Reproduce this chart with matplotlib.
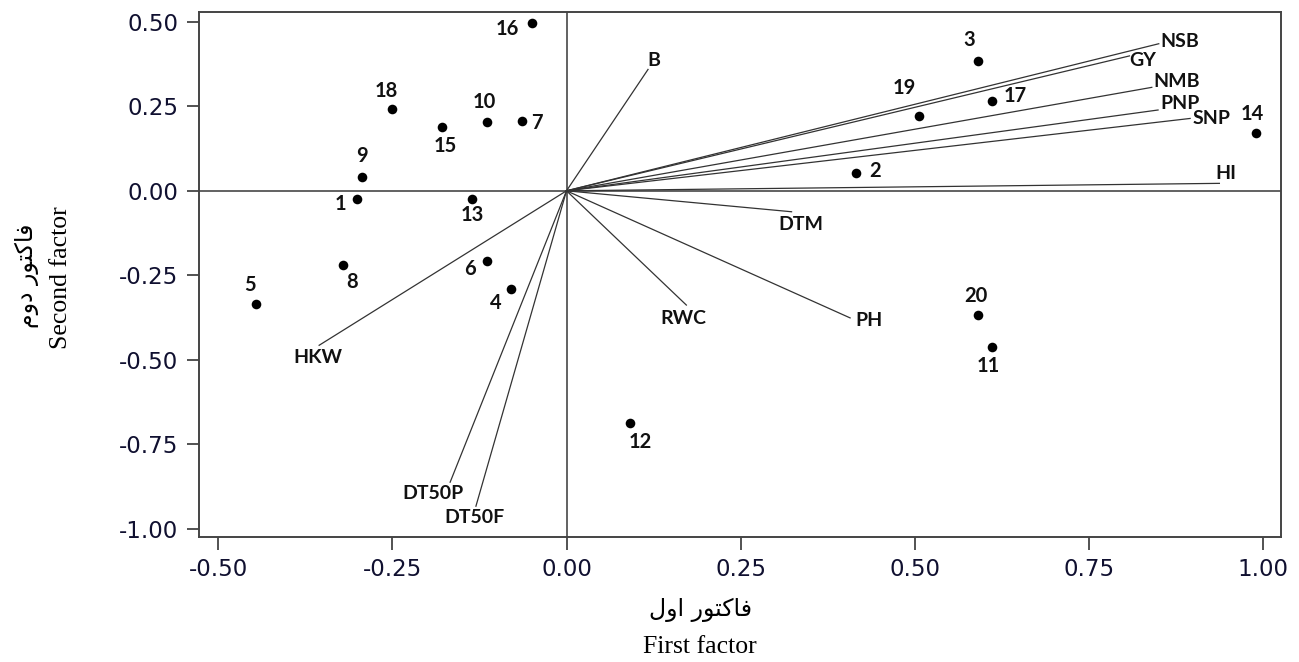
import numpy as np
import matplotlib.pyplot as plt

plt.rcParams['axes.unicode_minus'] = False

# genotype scores (first factor, second factor)
genotypes = [str(i) for i in range(1, 21)]
pc1 = [-0.301, 0.415, 0.590, -0.080, -0.446, -0.114, -0.064, -0.321, -0.293, -0.114,
       0.610, 0.091, -0.135, 0.989, -0.178, -0.050, 0.611, -0.251, 0.506, 0.591]
pc2 = [-0.025, 0.054, 0.383, -0.290, -0.334, -0.208, 0.207, -0.220, 0.041, 0.203,
       -0.463, -0.687, -0.024, 0.172, 0.188, 0.497, 0.266, 0.242, 0.221, -0.366]

# trait loadings
traits = ['NSB', 'GY', 'NMB', 'PNP', 'SNP', 'HI', 'B', 'DTM', 'RWC', 'PH', 'HKW', 'DT50P', 'DT50F']
load1 = [0.850, 0.808, 0.840, 0.849, 0.895, 0.937, 0.117, 0.323, 0.172, 0.407, -0.355, -0.167, -0.130]
load2 = [0.435, 0.399, 0.306, 0.239, 0.214, 0.022, 0.359, -0.062, -0.338, -0.376, -0.457, -0.862, -0.933]

xticks = [-0.50, -0.25, 0.00, 0.25, 0.50, 0.75, 1.00]
yticks = [0.50, 0.25, 0.00, -0.25, -0.50, -0.75, -1.00]

xlabel_fa = 'فاكتور اول'
ylabel_fa = 'فاکتور دوم'
xlabel_en = 'First factor'
ylabel_en = 'Second factor'

# label offsets in pixels (dx right, dy down)
pt_off = {'1': (-16, 5), '2': (19, -2), '3': (-8, -21), '4': (-15, 14), '5': (-6, -19),
          '6': (-17, 8), '7': (15, 2), '8': (9, 17), '9': (0, -21), '10': (-3, -20),
          '11': (-3, 19), '12': (10, 19), '13': (0, 16), '14': (-3, -19), '15': (3, 19),
          '16': (-24, 6), '17': (23, -5), '18': (-5, -18), '19': (-15, -28), '20': (-2, -19)}
tr_off = {'NSB': (21, -2), 'GY': (13, 5), 'NMB': (25, -6), 'PNP': (22, -6), 'SNP': (21, 0),
          'HI': (6, -10), 'B': (6, -9), 'DTM': (9, 13), 'RWC': (-3, 13), 'PH': (19, 3),
          'HKW': (-1, 12), 'DT50P': (-17, 11), 'DT50F': (-1, 11)}

# minimal arabic shaping for the persian labels (matplotlib has no shaping / bidi)
forms = {
    'ف': ('\ufed1', '\ufed2', '\ufed3', '\ufed4'),
    'ا': ('\ufe8d', '\ufe8e', None, None),
    'ک': ('\ufb8e', '\ufb8f', '\ufb90', '\ufb91'),
    'ك': ('\ufed9', '\ufeda', '\ufedb', '\ufedc'),
    'ت': ('\ufe95', '\ufe96', '\ufe97', '\ufe98'),
    'و': ('\ufeed', '\ufeee', None, None),
    'ر': ('\ufead', '\ufeae', None, None),
    'د': ('\ufea9', '\ufeaa', None, None),
    'م': ('\ufee1', '\ufee2', '\ufee3', '\ufee4'),
    'ل': ('\ufedd', '\ufede', '\ufedf', '\ufee0'),
}


def shape(s):
    out = []
    for i, ch in enumerate(s):
        if ch not in forms:
            out.append(ch)
            continue
        prev = s[i - 1] if i > 0 else ' '
        nxt = s[i + 1] if i + 1 < len(s) else ' '
        join_prev = prev in forms and forms[prev][2] is not None
        join_next = nxt in forms and forms[ch][2] is not None
        iso, fin, ini, med = forms[ch]
        if join_prev and join_next:
            out.append(med)
        elif join_prev:
            out.append(fin)
        elif join_next:
            out.append(ini)
        else:
            out.append(iso)
    return ''.join(reversed(out))


W, H = 1299, 662
fig = plt.figure(figsize=(W / 100, H / 100), dpi=100)
ax = fig.add_axes([199.3 / W, 1 - 537.3 / H, (1280.7 - 199.3) / W, (537.3 - 12.3) / H])

ax.axhline(0, color='#555555', lw=1.3, zorder=1)
ax.axvline(0, color='#555555', lw=1.3, zorder=1)

for name, x, y in zip(traits, load1, load2):
    ax.plot([0, x], [0, y], color='#333333', lw=0.9, zorder=2)
    dx, dy = tr_off[name]
    ax.annotate(name, (x, y), xytext=(dx, -dy), textcoords='offset pixels',
                ha='center', va='center', fontsize=14, fontweight='bold',
                family='Lato', color='#111111')

ax.scatter(pc1, pc2, s=48, color='black', zorder=3, linewidths=0)
for name, x, y in zip(genotypes, pc1, pc2):
    dx, dy = pt_off[name]
    ax.annotate(name, (x, y), xytext=(dx, -dy), textcoords='offset pixels',
                ha='center', va='center', fontsize=14.5, fontweight='bold',
                family='Lato', color='#111111')

ax.set_xlim(-0.527, 1.025)
ax.set_ylim(-1.025, 0.528)
ax.set_xticks(xticks)
ax.set_xticklabels(['%.2f' % v for v in xticks])
ax.set_yticks(yticks)
ax.set_yticklabels(['%.2f' % v for v in yticks])
ax.tick_params(direction='out', length=9, width=1.3, color='#444444',
               labelsize=16.5, labelcolor='#101030', pad=6)
for sp in ax.spines.values():
    sp.set_color('#444444')
    sp.set_linewidth(1.4)

fig.text(701 / W, 1 - 610 / H, shape(xlabel_fa), ha='center', va='center',
         fontsize=17, family='DejaVu Sans')
fig.text(700 / W, 1 - 647 / H, xlabel_en, ha='center', va='center',
         fontsize=18.5, family='Liberation Serif')
fig.text(27 / W, 1 - 276 / H, shape(ylabel_fa), ha='center', va='center',
         rotation=90, fontsize=17, family='DejaVu Sans')
fig.text(61 / W, 1 - 278 / H, ylabel_en, ha='center', va='center',
         rotation=90, fontsize=18.5, family='Liberation Serif')

fig.savefig('out.png', dpi=100)
